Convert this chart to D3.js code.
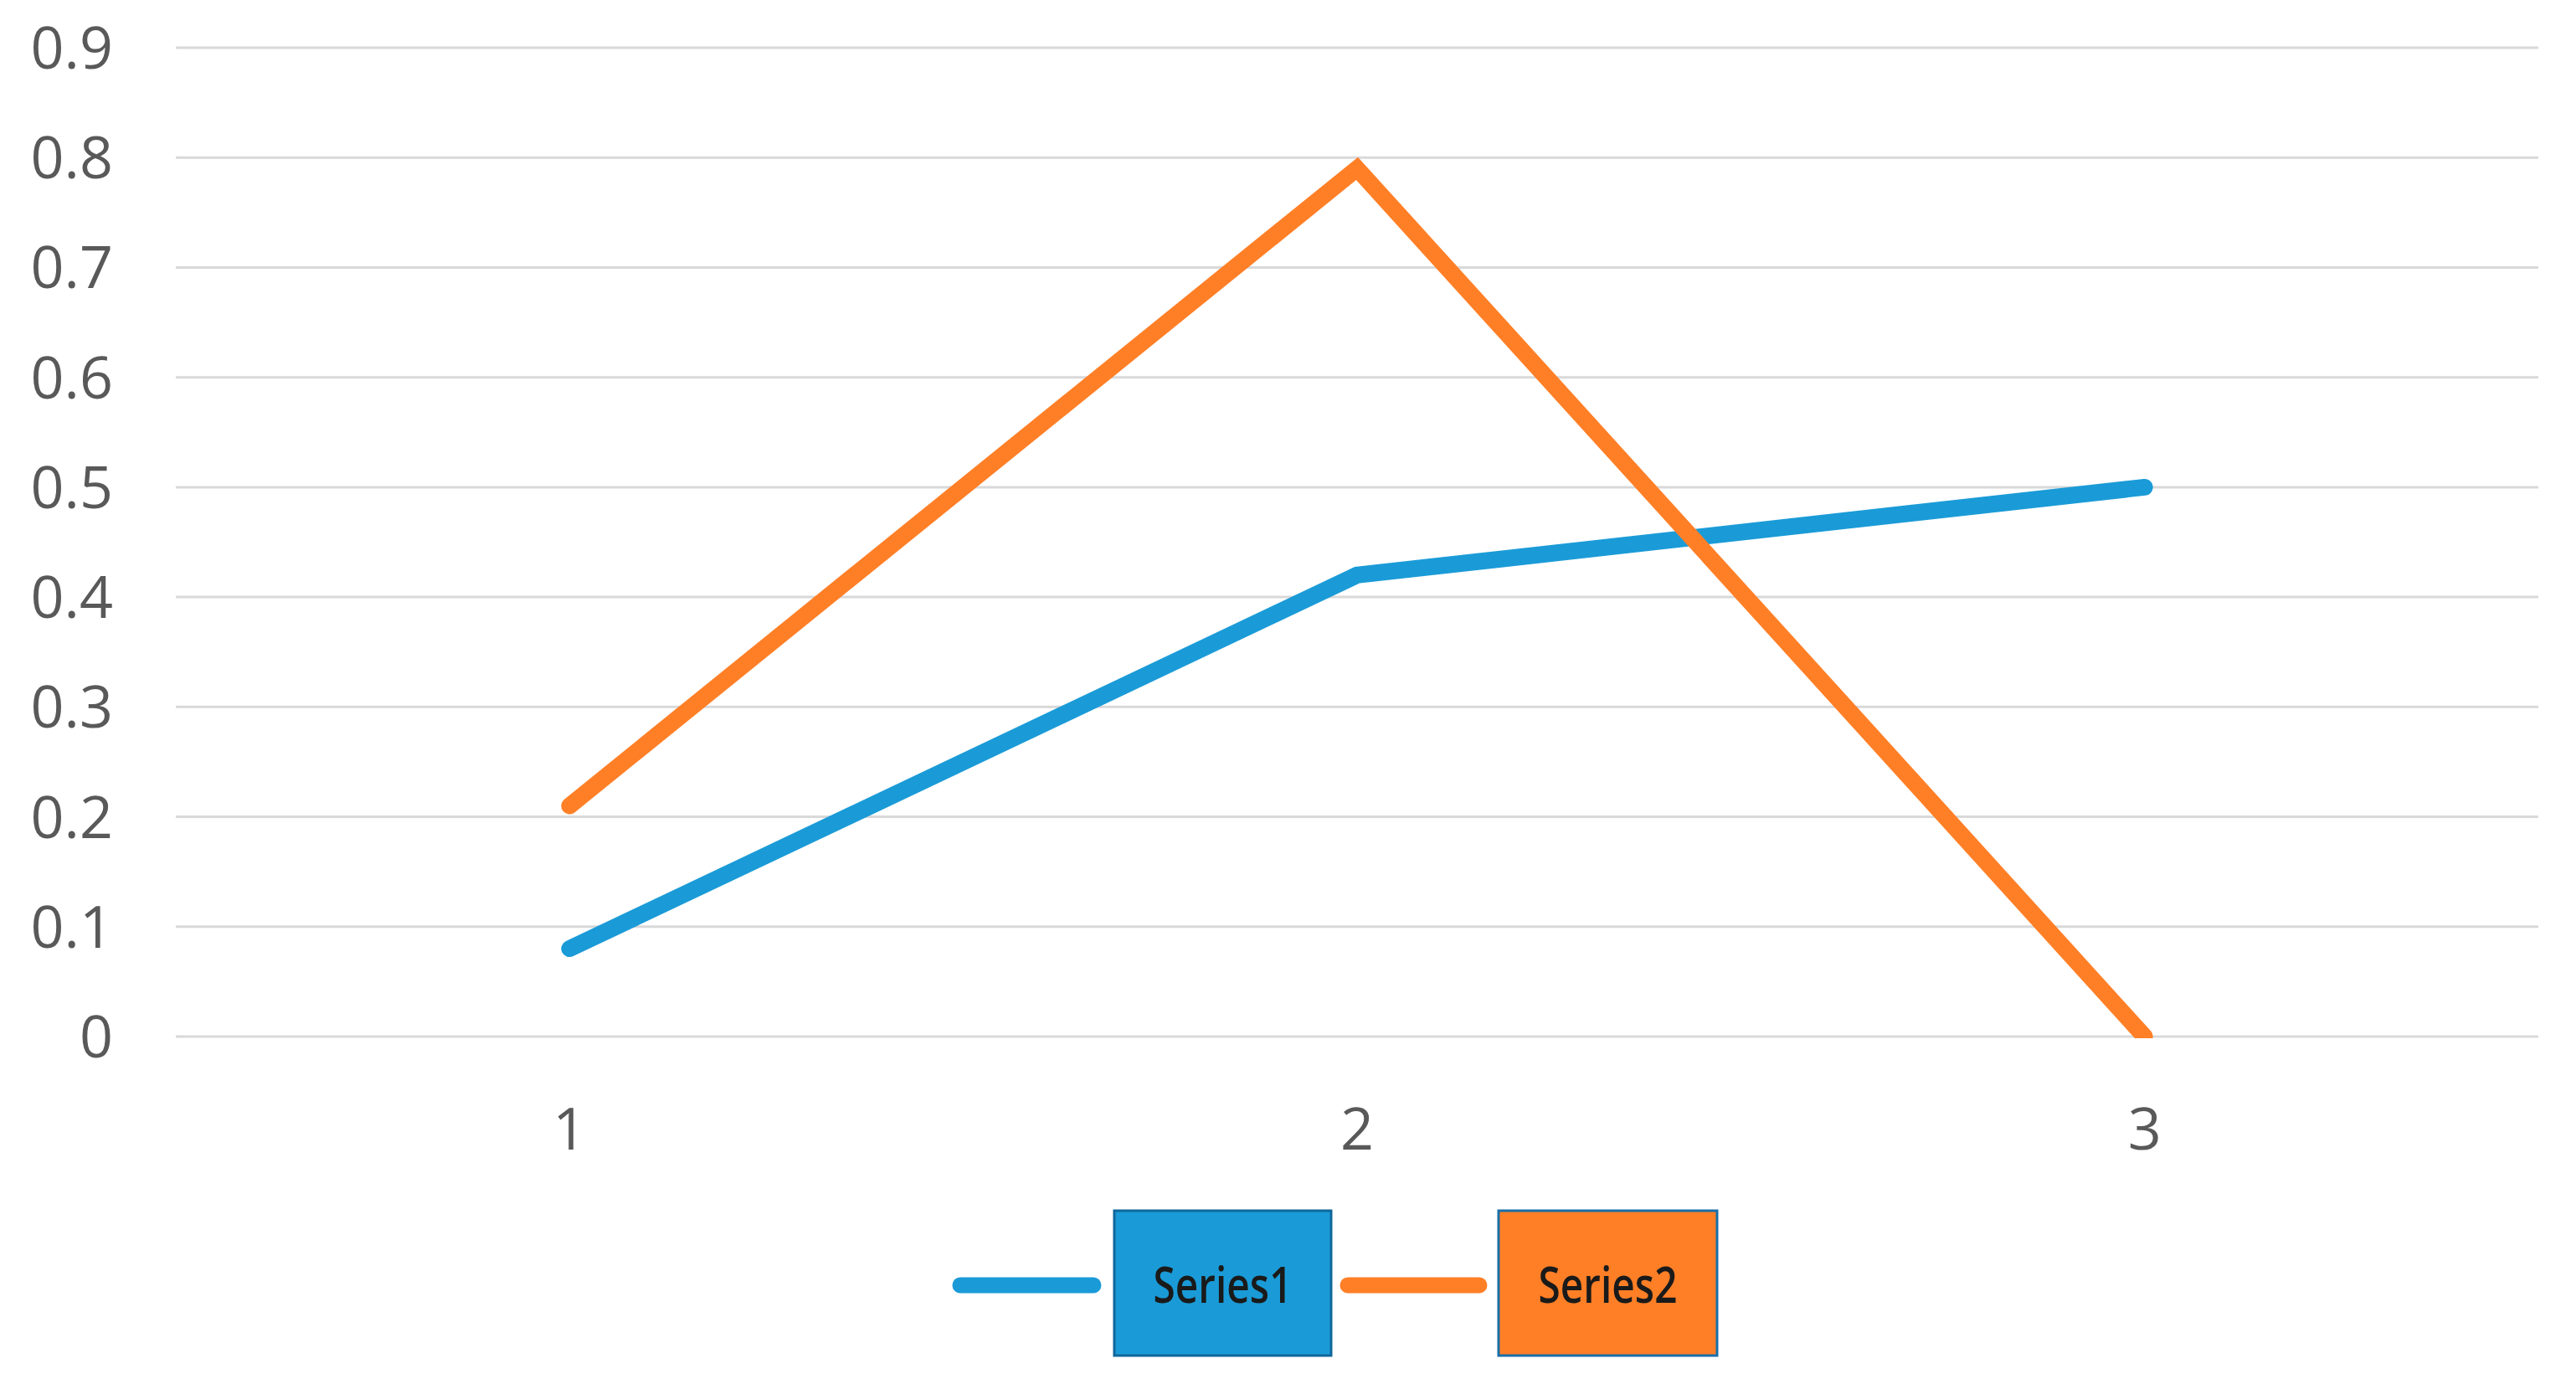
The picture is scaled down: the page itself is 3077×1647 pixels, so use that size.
<!DOCTYPE html>
<html>
<head>
<meta charset="utf-8">
<script src="https://cdn.jsdelivr.net/npm/d3@7"></script>
<style>
  html, body { margin: 0; padding: 0; background: #ffffff; }
  svg { display: block; }
</style>
</head>
<body>
<svg id="chart" width="3077" height="1647"></svg>
<script>
const categories = ["1", "2", "3"];
const series1 = [0.08, 0.42, 0.50];
const series2 = [0.21, 0.79, 0.00];
const seriesNames = ["Series1", "Series2"];
const yTicks = [0, 0.1, 0.2, 0.3, 0.4, 0.5, 0.6, 0.7, 0.8, 0.9];
const colors = ["#1a9bd7", "#ff7f27"];
const borders = ["#10679a", "#1a6fa8"];

(function () {
const svg = d3.select("#chart");
const W = 3077, H = 1647;
const plotLeft = 210, plotRight = 3032, plotTop = 57, plotBottom = 1238;
const font = "'Open Sans', 'DejaVu Sans', sans-serif";

const x = d3.scaleBand().domain(categories).range([plotLeft, plotRight]).padding(0);
const y = d3.scaleLinear().domain([0, 0.9]).range([plotBottom, plotTop]);

// gridlines
svg.append("g")
  .selectAll("line")
  .data(yTicks)
  .join("line")
  .attr("x1", plotLeft).attr("x2", plotRight)
  .attr("y1", d => y(d)).attr("y2", d => y(d))
  .attr("stroke", "#d9d9d9").attr("stroke-width", 3);

// y axis labels
const yAxis = d3.axisLeft(y).tickValues(yTicks).tickSize(0).tickPadding(0)
  .tickFormat(d => d === 0 ? "0" : d3.format(".1f")(d));
const gy = svg.append("g").attr("transform", "translate(135,0)").call(yAxis);
gy.select(".domain").remove();
gy.selectAll("text")
  .attr("font-family", font).attr("font-size", 70).attr("fill", "#595959")
  .attr("dy", "0.35em");

// x axis labels
const xAxis = d3.axisBottom(x).tickSize(0).tickPadding(0);
const gx = svg.append("g").attr("transform", "translate(0,1373)").call(xAxis);
gx.select(".domain").remove();
gx.selectAll("text")
  .attr("font-family", font).attr("font-size", 70).attr("fill", "#595959")
  .attr("dy", 0);

// clip
svg.append("defs").append("clipPath").attr("id", "plotclip")
  .append("rect").attr("x", 0).attr("y", 0).attr("width", W).attr("height", plotBottom + 2);

const line = d3.line()
  .x((d, i) => x(categories[i]) + x.bandwidth() / 2)
  .y(d => y(d));

[series1, series2].forEach((s, k) => {
  svg.append("path")
    .datum(s)
    .attr("d", line)
    .attr("fill", "none")
    .attr("stroke", colors[k])
    .attr("stroke-width", 20)
    .attr("stroke-linecap", "round")
    .attr("stroke-linejoin", "miter")
    .attr("clip-path", "url(#plotclip)");
});

// legend
const legendItems = [
  { lx1: 1138, lx2: 1315, bx: 1331, bw: 259 },
  { lx1: 1601, lx2: 1776, bx: 1790, bw: 261 }
];
const ly = 1535, boxTop = 1446, boxH = 173;
const lg = svg.append("g");
legendItems.forEach((it, k) => {
  lg.append("line")
    .attr("x1", it.lx1 + 9).attr("x2", it.lx2 - 9)
    .attr("y1", ly).attr("y2", ly)
    .attr("stroke", colors[k]).attr("stroke-width", 19)
    .attr("stroke-linecap", "round");
  lg.append("rect")
    .attr("x", it.bx).attr("y", boxTop)
    .attr("width", it.bw).attr("height", boxH)
    .attr("fill", colors[k])
    .attr("stroke", borders[k]).attr("stroke-width", 3);
  lg.append("text")
    .attr("x", it.bx + it.bw / 2).attr("y", ly + 21)
    .attr("text-anchor", "middle")
    .attr("font-family", font).attr("font-size", 60).attr("font-weight", 600)
    .attr("fill", "#1a1a1a")
    .attr("textLength", 166).attr("lengthAdjust", "spacingAndGlyphs")
    .text(seriesNames[k]);
});
})();
</script>
</body>
</html>
